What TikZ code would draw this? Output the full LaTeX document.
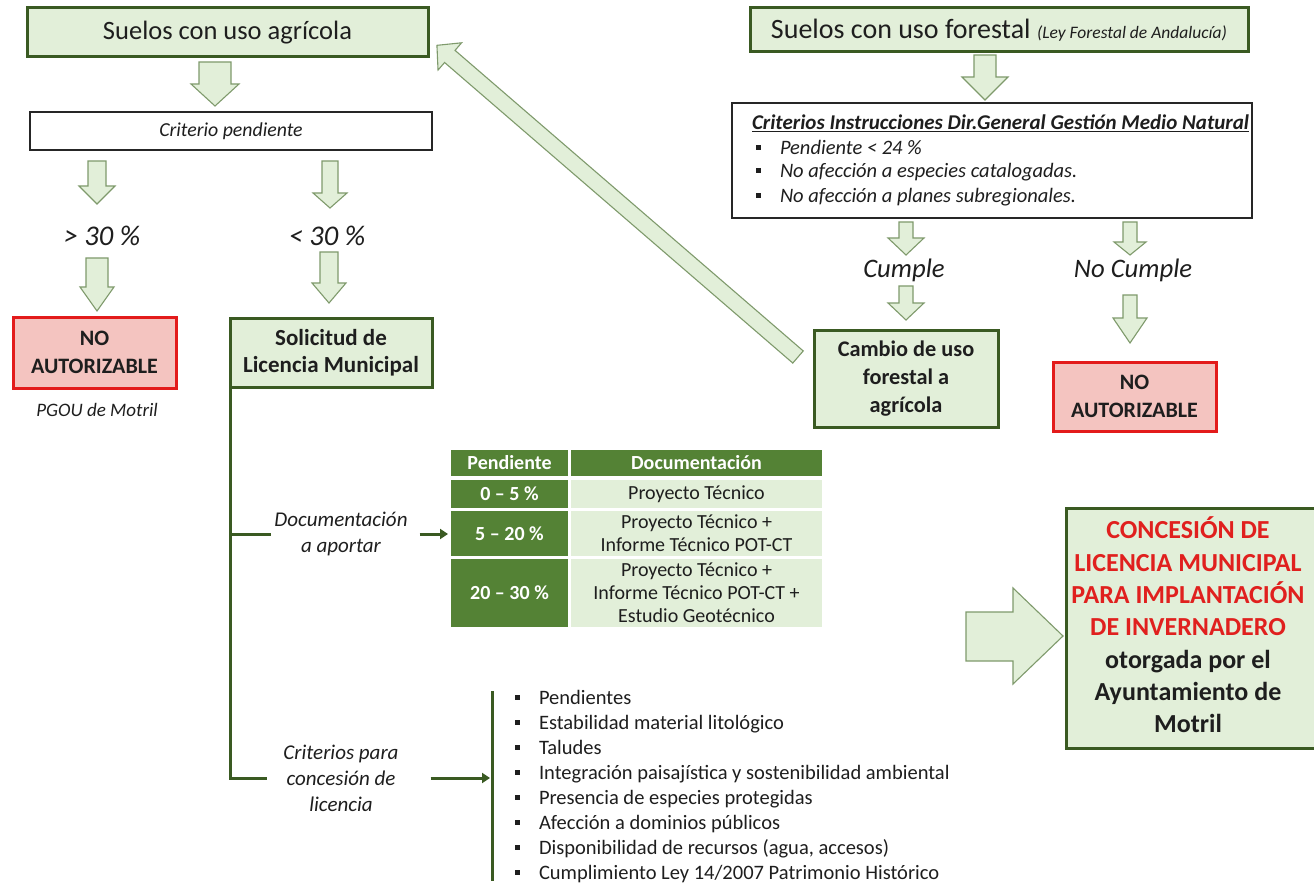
\documentclass[tikz,border=0pt]{standalone}
\usepackage{fontspec}
\setmainfont{Carlito}
\usetikzlibrary{arrows.meta}
\definecolor{gfill}{HTML}{E2EFD9}
\definecolor{gdark}{HTML}{3A5A22}
\definecolor{gtab}{HTML}{548235}
\definecolor{aline}{HTML}{7F9A6C}
\definecolor{rline}{HTML}{E31B1B}
\definecolor{rfill}{HTML}{F4C4C0}
\definecolor{rtext}{HTML}{E0201E}
\definecolor{txt}{HTML}{1E1E1E}
\newcommand\fs[2]{\fontsize{#1}{#2}\selectfont}
\newcommand\sqb{\makebox[24pt][l]{\rule[0.22em]{4.5pt}{4.5pt}}}
\newcommand\DArr[6]{\draw[barrow] (#1-#5,#2) -- (#1+#5,#2) -- (#1+#5,#3) -- (#1+#6,#3) -- (#1,#4) -- (#1-#6,#3) -- (#1-#5,#3) -- cycle;}
\begin{document}
\begin{tikzpicture}[x=1pt,y=-1pt,
  every node/.style={inner sep=0pt, outer sep=0pt, text=txt},
  gbox/.style={draw=gdark, line width=3pt, fill=gfill, align=center},
  rbox/.style={draw=rline, line width=3pt, fill=rfill, align=center, font=\bfseries\fs{22}{28}},
  wbox/.style={draw=black!85, line width=1.2pt, fill=white},
  tline/.style={draw=gdark, line width=3pt},
  tarrow/.style={tline, -{Triangle[length=8pt,width=10pt]}},
  barrow/.style={fill=gfill, draw=aline, line width=1.1pt, line join=miter},
  tdark/.style={fill=gtab, text=white, font=\bfseries\fs{20}{23}, align=center, minimum width=117pt},
  tlight/.style={fill=gfill, font=\fs{20}{23}, align=center, minimum width=251pt},
  ilab/.style={font=\itshape\fs{21}{26}, align=center}
]
\useasboundingbox (0,0) rectangle (1314,885);
\fill[white] (0,0) rectangle (1314,885);

% ---- left column ----
\node[gbox, minimum width=401pt, minimum height=49pt, font=\fs{26.5}{30}] (agri) at (227.5,32.5) {Suelos con uso agrícola};
\node[wbox, minimum width=402pt, minimum height=38pt, font=\itshape\fs{19.8}{23}] (crit) at (231,131) {Criterio pendiente};
\node[font=\itshape\fs{28.5}{30}] (gt) at (102,236) {> 30 \%};
\node[font=\itshape\fs{28.5}{30}] (lt) at (327,236) {< 30 \%};
\node[rbox, minimum width=163pt, minimum height=71pt] (no1) at (94.5,352.5) {NO\\AUTORIZABLE};
\node[font=\itshape\fs{19}{20}] (pgou) at (97,410) {PGOU de Motril};
\node[gbox, minimum width=202pt, minimum height=69pt, font=\bfseries\fs{23}{27}] (sol) at (331,352.5) {Solicitud de\\Licencia Municipal};
\node[ilab] (docu) at (341,534) {Documentación\\a aportar};
\node[ilab] (crit2) at (341,778) {Criterios para\\concesión de\\licencia};

% ---- table ----
\node[tdark, minimum height=26pt] (hA) at (509.5,463) {Pendiente};
\node[tdark, minimum width=251pt, minimum height=26pt] (hB) at (696.5,463) {Documentación};
\node[tdark, minimum height=28pt] (r1a) at (509.5,494) {0 – 5 \%};
\node[tlight, minimum height=28pt] (r1b) at (696.5,494) {Proyecto Técnico};
\node[tdark, minimum height=45pt] (r2a) at (509.5,533.5) {5 – 20 \%};
\node[tlight, minimum height=45pt] (r2b) at (696.5,533.5) {Proyecto Técnico +\\Informe Técnico POT-CT};
\node[tdark, minimum height=68pt] (r3a) at (509.5,593) {20 – 30 \%};
\node[tlight, minimum height=68pt] (r3b) at (696.5,593) {Proyecto Técnico +\\Informe Técnico POT-CT +\\Estudio Geotécnico};

% ---- criteria list ----
\node[anchor=north west, align=left, font=\fs{20.5}{25}] (list) at (515,690) {\sqb Pendientes\\
\sqb Estabilidad material litológico\\
\sqb Taludes\\
\sqb Integración paisajística y sostenibilidad ambiental\\
\sqb Presencia de especies protegidas\\
\sqb Afección a dominios públicos\\
\sqb Disponibilidad de recursos (agua, accesos)\\
\sqb Cumplimiento Ley 14/2007 Patrimonio Histórico};
\coordinate (barTop) at (492,691);
\coordinate (barBot) at (492,881);

% ---- right column ----
\node[gbox, minimum width=498pt, minimum height=44pt, font=\fs{28}{30}] (fore) at (999,30) {Suelos con uso forestal {\itshape\fs{17.5}{20}(Ley Forestal de Andalucía)}};
\node[wbox, minimum width=520pt, minimum height=115pt] (crit3) at (992,160.5) {};
\node[anchor=west, font=\bfseries\itshape\fs{21}{23}] (ct) at (752,123) {\underline{Criterios Instrucciones Dir.General Gestión Medio Natural}};
\node[anchor=west, font=\itshape\fs{20.5}{22}] (c1) at (756,147) {\sqb Pendiente < 24 \%};
\node[anchor=west, font=\itshape\fs{20.5}{22}] (c2) at (756,172) {\sqb No afección a especies catalogadas.};
\node[anchor=west, font=\itshape\fs{20.5}{22}] (c3) at (756,197) {\sqb No afección a planes subregionales.};
\node[font=\itshape\fs{26.7}{30}] (cum) at (904,270) {Cumple};
\node[font=\itshape\fs{26.7}{30}] (ncum) at (1133,270) {No Cumple};
\node[gbox, minimum width=184pt, minimum height=97pt, font=\bfseries\fs{22.3}{28}] (camb) at (906,378.5) {Cambio de uso\\forestal a\\agrícola};
\node[rbox, minimum width=163pt, minimum height=69pt] (no2) at (1134.5,396.5) {NO\\AUTORIZABLE};
\node[gbox, minimum width=254pt, minimum height=240pt] (conc) at (1193,628) {};
\node[align=center, font=\bfseries\fs{26}{32.3}] (conct) at (1188,625) {{\color{rtext}CONCESIÓN DE}\\{\color{rtext}LICENCIA MUNICIPAL}\\{\color{rtext}PARA IMPLANTACIÓN}\\{\color{rtext}DE INVERNADERO}\\otorgada por el\\Ayuntamiento de\\Motril};

% ---- block arrows ----
\DArr{215}{62}{84}{106}{16}{24}
\DArr{97}{161}{186}{204}{9}{18}
\DArr{330}{161}{193}{208}{8}{17}
\DArr{97}{258}{287}{311}{11}{17}
\DArr{329}{252}{283}{303}{9}{17}
\DArr{985}{55}{77}{100}{11}{23}
\DArr{906}{222}{238}{255}{7}{18}
\DArr{1130}{222}{242}{255}{7}{16}
\DArr{906}{286}{303}{320}{7}{18}
\DArr{1130}{295}{318}{343}{7}{17}
\begin{scope}[shift={(798,357)}, rotate=139.2]
\draw[barrow] (0,-8) -- (460,-8) -- (460,-18) -- (477,0) -- (460,18) -- (460,8) -- (0,8) -- cycle;
\end{scope}
\draw[barrow] (966,612) -- (1013,612) -- (1013,588) -- (1063,636) -- (1013,684) -- (1013,661) -- (966,661) -- cycle;

% ---- tree connectors ----
\draw[tline] (sol.south west) |- ([xshift=-16pt]crit2.west);
\draw[tline] (sol.south west |- docu.west) -- ([xshift=-3pt]docu.west);
\draw[tarrow, shorten <=12pt] (docu.east) -- ([xshift=-3pt]docu.east -| r2a.west);
\draw[tline] (barTop) -- (barBot);
\draw[tarrow, shorten <=32pt] (crit2.east) -- ([xshift=-2pt]crit2.east -| barTop);
\end{tikzpicture}
\end{document}
